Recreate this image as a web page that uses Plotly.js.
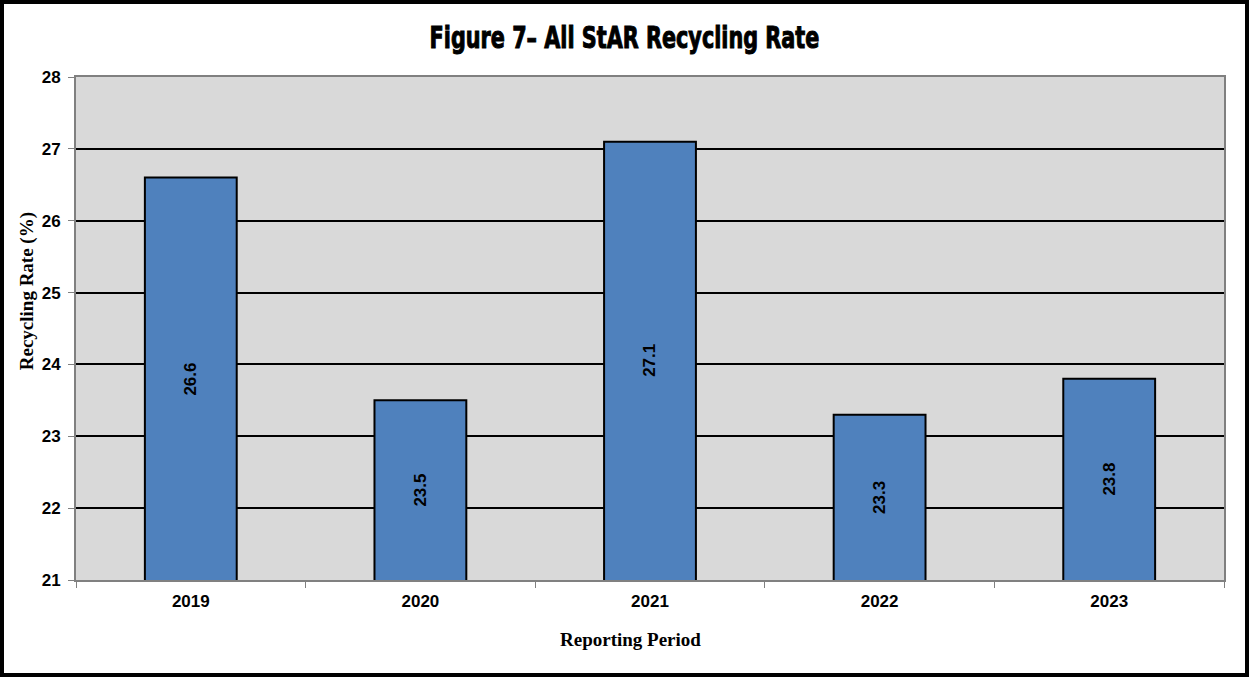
<!DOCTYPE html>
<html>
<head>
<meta charset="utf-8">
<script src="https://cdn.plot.ly/plotly-3.0.1.min.js"></script>
<style>
html,body{margin:0;padding:0;background:#fff;}
#chart{width:1249px;height:677px;box-sizing:border-box;border:4px solid #000;}
#chart .gtitle{transform-box:fill-box;transform-origin:center;transform:scaleX(0.745);stroke:#000;stroke-width:1px;}
</style>
</head>
<body>
<div id="chart"></div>
<script>
const categories = ["2019", "2020", "2021", "2022", "2023"];
const recyclingRate = [26.6, 23.5, 27.1, 23.3, 23.8];
const labels = ["26.6", "23.5", "27.1", "23.3", "23.8"];
const yTicks = [21, 22, 23, 24, 25, 26, 27, 28];
const yMin = 21, yMax = 28;
const xTitle = "Reporting Period";
const yTitle = "Recycling Rate (%)";

const trace = {
  type: "bar",
  x: categories,
  y: recyclingRate,
  marker: {color: "#4f81bd", line: {color: "#000", width: 2}},
  width: 0.4,
  hoverinfo: "none"
};

// value labels, centred on the visible part of each bar (x = category index)
const annotations = categories.map((c, i) => ({
  x: i,
  y: (yMin + recyclingRate[i]) / 2,
  xref: "x",
  yref: "y",
  text: "<b>" + labels[i] + "</b>",
  showarrow: false,
  textangle: -90,
  xanchor: "center",
  yanchor: "middle",
  font: {family: "Liberation Sans, Arial, sans-serif", size: 17, color: "#000"}
}));

// axis titles (placed as in the original, slightly off-centre)
annotations.push({
  xref: "paper", yref: "paper",
  x: 0.4834, y: -0.119,
  xanchor: "center", yanchor: "middle",
  text: "<b>" + xTitle + "</b>",
  showarrow: false,
  font: {family: "Liberation Serif, Times New Roman, serif", size: 19, color: "#000"}
});
annotations.push({
  xref: "paper", yref: "paper",
  x: -0.0427, y: 0.574,
  xanchor: "center", yanchor: "middle",
  textangle: -90,
  text: "<b>" + yTitle + "</b>",
  showarrow: false,
  font: {family: "Liberation Serif, Times New Roman, serif", size: 19, color: "#000"}
});

const layout = {
  width: 1241,
  height: 669,
  margin: {l: 72, r: 21, t: 73, b: 93},
  paper_bgcolor: "#ffffff",
  plot_bgcolor: "#d9d9d9",
  showlegend: false,
  annotations: annotations,
  title: {
    text: "<b>Figure 7– All StAR Recycling Rate</b>",
    font: {family: "DejaVu Sans Condensed, DejaVu Sans, sans-serif", size: 31, color: "#000"},
    x: 0.5, xanchor: "center", y: 0.95, yanchor: "middle"
  },
  xaxis: {
    type: "category",
    categoryorder: "array",
    categoryarray: categories,
    range: [-0.5, categories.length - 0.5],
    tickson: "boundaries",
    ticks: "outside",
    ticklen: 6,
    tickcolor: "#808080",
    tickwidth: 1,
    ticklabelstandoff: 5,
    showgrid: false,
    showline: true,
    linecolor: "#808080",
    linewidth: 2,
    mirror: true,
    tickfont: {family: "Liberation Sans, Arial, sans-serif", size: 17, color: "#000", weight: "bold"}
  },
  yaxis: {
    range: [yMin, yMax],
    tickvals: yTicks,
    ticks: "outside",
    ticklen: 6,
    tickcolor: "#808080",
    tickwidth: 1,
    ticklabelstandoff: 4,
    showgrid: true,
    gridcolor: "#000",
    gridwidth: 2,
    zeroline: false,
    showline: true,
    linecolor: "#808080",
    linewidth: 2,
    mirror: true,
    tickfont: {family: "Liberation Sans, Arial, sans-serif", size: 17, color: "#000", weight: "bold"}
  },
  bargap: 0.6
};

Plotly.newPlot("chart", [trace], layout, {staticPlot: true, displayModeBar: false});
</script>
</body>
</html>
